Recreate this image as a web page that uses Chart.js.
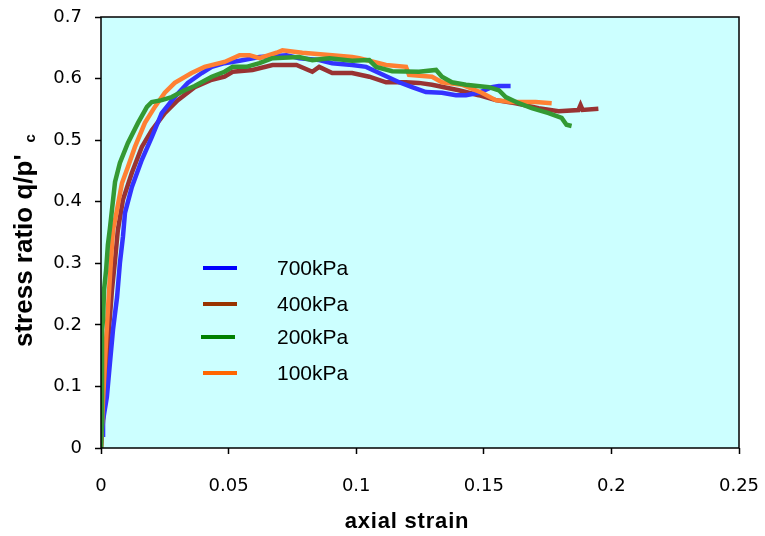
<!DOCTYPE html>
<html>
<head>
<meta charset="utf-8">
<script src="https://cdn.jsdelivr.net/npm/chart.js@4/dist/chart.umd.min.js"></script>
<style>
  body { margin: 0; background: #fff; }
  canvas { display: block; }
</style>
</head>
<body>
<canvas id="chart" width="765" height="536"></canvas>
<script>
// series labels + colours (legend uses slightly different, purer colours)
const seriesNames = ["700kPa", "400kPa", "200kPa", "100kPa"];
const lineColours = ["#3333ff", "#993333", "#339933", "#ff8033"];
const legendColours = ["#0000ff", "#993300", "#008000", "#ff6600"];

const xTicks = [0, 0.05, 0.1, 0.15, 0.2, 0.25];
const yTicks = [0, 0.1, 0.2, 0.3, 0.4, 0.5, 0.6, 0.7];

// [axial strain, q/p'c]
const s700 = [[0.0008,0.018],[0.0008,0.045],[0.0023,0.083],[0.0035,0.138],[0.0047,0.192],[0.0063,0.245],
  [0.0074,0.3],[0.0086,0.343],[0.0094,0.382],[0.0121,0.424],[0.016,0.468],[0.0199,0.505],[0.0238,0.544],
  [0.0289,0.57],[0.034,0.593],[0.0395,0.609],[0.0434,0.619],[0.0484,0.625],[0.0543,0.629],[0.0621,0.635],
  [0.0727,0.638],[0.0777,0.633],[0.0855,0.63],[0.0906,0.625],[0.0984,0.622],[0.1039,0.619],[0.109,0.609],
  [0.1168,0.594],[0.1219,0.586],[0.1273,0.578],[0.1336,0.577],[0.1391,0.573],[0.143,0.573],[0.148,0.577],
  [0.1531,0.586],[0.1559,0.588],[0.1605,0.588]];

const s400 = [[0,0],[0.0008,0.045],[0.002,0.11],[0.0031,0.192],[0.0043,0.257],[0.0055,0.305],[0.0066,0.354],
  [0.0086,0.403],[0.0121,0.447],[0.016,0.489],[0.0199,0.516],[0.025,0.544],[0.0301,0.565],[0.0367,0.586],
  [0.0434,0.598],[0.0484,0.603],[0.0516,0.611],[0.0594,0.614],[0.0672,0.622],[0.0766,0.622],[0.0828,0.611],
  [0.0855,0.619],[0.0906,0.609],[0.0984,0.609],[0.1051,0.603],[0.1117,0.594],[0.1195,0.594],[0.1246,0.593],
  [0.1297,0.59],[0.1402,0.581],[0.148,0.573],[0.1547,0.565],[0.1625,0.56],[0.1715,0.552],[0.1793,0.547],
  [0.1871,0.549],[0.1879,0.557],[0.1887,0.549],[0.1949,0.551]];

const s200 = [[0,0],[0.0004,0.045],[0.0004,0.192],[0.0008,0.208],[0.0012,0.257],[0.002,0.289],[0.0027,0.33],
  [0.0035,0.357],[0.0055,0.432],[0.0074,0.463],[0.0105,0.495],[0.0145,0.528],[0.018,0.554],[0.0199,0.562],
  [0.0238,0.565],[0.0277,0.57],[0.0328,0.581],[0.0367,0.588],[0.0434,0.603],[0.0484,0.611],[0.0516,0.619],
  [0.057,0.619],[0.0621,0.625],[0.0672,0.633],[0.0777,0.635],[0.0828,0.63],[0.0895,0.633],[0.0984,0.629],
  [0.1051,0.63],[0.1078,0.619],[0.1141,0.612],[0.1246,0.611],[0.1313,0.614],[0.1336,0.603],[0.1375,0.594],
  [0.143,0.59],[0.152,0.586],[0.1559,0.581],[0.1586,0.57],[0.1637,0.56],[0.1688,0.552],[0.1754,0.544],
  [0.1805,0.536],[0.1824,0.525],[0.1844,0.523]];

const s100 = [[0,0],[0.0008,0.078],[0.002,0.175],[0.0027,0.224],[0.0039,0.305],[0.0047,0.354],[0.0055,0.37],
  [0.0082,0.43],[0.0105,0.456],[0.0133,0.489],[0.0172,0.528],[0.0211,0.554],[0.025,0.577],[0.0289,0.593],
  [0.0355,0.609],[0.0406,0.619],[0.0484,0.627],[0.0543,0.638],[0.0582,0.638],[0.0621,0.633],[0.0688,0.642],
  [0.0711,0.646],[0.0789,0.642],[0.0906,0.638],[0.0984,0.635],[0.1012,0.633],[0.1117,0.622],[0.1195,0.619],
  [0.1207,0.606],[0.1297,0.603],[0.1336,0.594],[0.1414,0.59],[0.1492,0.577],[0.1547,0.565],[0.1609,0.562],
  [0.1703,0.562],[0.1766,0.56]];

const allSeries = [s700, s400, s200, s100];
const drawOrder = [2, 3, 0, 1];   // green on top, brown at the bottom

const FONT = "'Liberation Sans', Arial, sans-serif";
const TICKFONT = "'DejaVu Sans', sans-serif";

// plot box: cyan fill + black frame, then legend and axis titles
const decor = {
  id: 'decor',
  beforeDatasetsDraw(chart) {
    const { ctx, chartArea: a } = chart;
    ctx.save();
    ctx.fillStyle = '#ccffff';
    ctx.fillRect(a.left, a.top, a.right - a.left, a.bottom - a.top);
    ctx.restore();
  },
  afterDatasetsDraw(chart) {
    const { ctx, chartArea: a } = chart;
    ctx.save();
    ctx.strokeStyle = '#000';
    ctx.lineWidth = 1.5;
    ctx.strokeRect(a.left, a.top, a.right - a.left, a.bottom - a.top);

    // legend
    const rows = [268, 304, 337, 373];
    ctx.font = '21px ' + FONT;
    ctx.textBaseline = 'middle';
    seriesNames.forEach((n, i) => {
      ctx.fillStyle = legendColours[i];
      ctx.fillRect(i == 2 ? 201 : 203, rows[i] - 2, 34, 4);
      ctx.fillStyle = '#000';
      ctx.fillText(n, 277, rows[i] + 1);
    });

    // x title
    ctx.font = 'bold 22px ' + FONT;
    ctx.letterSpacing = '0.8px';
    ctx.textAlign = 'center';
    ctx.textBaseline = 'alphabetic';
    ctx.fillText('axial strain', 407, 528);

    // y title, rotated, with subscript c
    ctx.letterSpacing = '0px';
    ctx.font = 'bold 26px ' + FONT;
    ctx.translate(32, 347);
    ctx.rotate(-Math.PI / 2);
    ctx.textAlign = 'left';
    const main = "stress ratio q/p'";
    ctx.fillText(main, 0, 0);
    const w = ctx.measureText(main).width;
    ctx.font = 'bold 15px ' + FONT;
    ctx.fillText('c', w + 12, 3);
    ctx.restore();
  }
};

new Chart(document.getElementById('chart'), {
  type: 'line',
  data: {
    datasets: allSeries.map((s, i) => ({
      label: seriesNames[i],
      data: s.map(p => ({ x: p[0], y: p[1] })),
      borderColor: lineColours[i],
      borderWidth: 4.5,
      pointRadius: 0,
      tension: 0,
      fill: false,
      order: drawOrder[i]
    }))
  },
  options: {
    responsive: false,
    animation: false,
    layout: { padding: { top: 17, right: 26, left: 0, bottom: 0 } },
    plugins: { legend: { display: false }, tooltip: { enabled: false } },
    scales: {
      x: {
        type: 'linear',
        min: 0, max: 0.25,
        afterBuildTicks: s => { s.ticks = xTicks.map(v => ({ value: v })); },
        afterFit: s => { s.height = 88; s.paddingLeft = 0; s.paddingRight = 0; },
        border: { display: false },
        grid: { drawOnChartArea: false, tickLength: 6, tickColor: '#000', tickWidth: 1.5 },
        ticks: { color: '#000', font: { family: TICKFONT, size: 18 }, padding: 22, maxRotation: 0,
                 callback: v => String(v) }
      },
      y: {
        type: 'linear',
        min: 0, max: 0.7,
        afterBuildTicks: s => { s.ticks = yTicks.map(v => ({ value: v })); },
        afterFit: s => { s.width = 101; s.paddingTop = 0; s.paddingBottom = 0; },
        border: { display: false },
        grid: { drawOnChartArea: false, tickLength: 6, tickColor: '#000', tickWidth: 1.5 },
        ticks: { color: '#000', font: { family: TICKFONT, size: 18 }, padding: 13,
                 callback: v => String(v) }
      }
    }
  },
  plugins: [decor]
});
</script>
</body>
</html>
